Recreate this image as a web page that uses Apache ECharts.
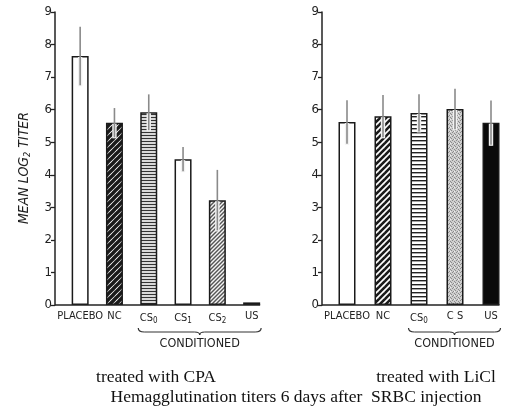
<!DOCTYPE html>
<html><head><meta charset="utf-8">
<script src="https://cdn.jsdelivr.net/npm/echarts@6/dist/echarts.min.js"></script>
<style>html,body{margin:0;padding:0;background:#fff}#c{width:509px;height:415px}</style>
</head><body><div id="c"></div>
<script>
// ---- data ----
const labelsL = ['PLACEBO', 'NC', 'CS{s|0}', 'CS{s|1}', 'CS{s|2}', 'US'];
const valuesL = [7.65, 5.6, 5.92, 4.48, 3.22, 0.08];
const errorsL = [0.9, 0.45, 0.55, 0.37, 0.93, 0];
const labelsR = ['PLACEBO', 'NC', 'CS{s|0}', 'C S', 'US'];
const valuesR = [5.62, 5.8, 5.9, 6.02, 5.6];
const errorsR = [0.67, 0.65, 0.57, 0.62, 0.68];
const yTicks = [0, 1, 2, 3, 4, 5, 6, 7, 8, 9];

// ---- patterns ----
function mk(w, h, draw) { const c = document.createElement('canvas'); c.width = w; c.height = h; draw(c.getContext('2d'), w, h); return c; }
function hatch(s, lw, fg, bg) {
  return mk(s, s, (g) => { g.fillStyle = bg; g.fillRect(0, 0, s, s); g.strokeStyle = fg; g.lineWidth = lw;
    for (const k of [-s, 0, s]) { g.beginPath(); g.moveTo(k - 1, s + 1); g.lineTo(k + s + 1, -1); g.stroke(); } });
}
function stripes(h, lw, fg, bg) {
  return mk(4, h, (g) => { g.fillStyle = bg; g.fillRect(0, 0, 4, h); g.fillStyle = fg; g.fillRect(0, 0, 4, lw); });
}
function stipple() {
  return mk(4, 4, (g) => { g.fillStyle = '#cdcdcd'; g.fillRect(0, 0, 4, 4); g.fillStyle = '#8a8a8a';
    [[0,0],[2,1],[1,3],[3,2]].forEach(p => g.fillRect(p[0], p[1], 1, 1)); g.fillStyle = '#eee'; g.fillRect(2, 3, 1, 1); });
}
const P = (c) => ({ image: c, repeat: 'repeat' });
const fillsL = ['#fff', P(hatch(6, 3.4, '#1a1a1a', '#fff')), P(stripes(3, 1, '#333', '#d8d8d8')), '#fff', P(hatch(4, 1.4, '#555', '#f4f4f4')), '#333'];
const fillsR = ['#fff', P(hatch(6, 2.6, '#1a1a1a', '#fff')), P(stripes(4, 1.4, '#222', '#fff')), P(stipple()), '#0a0a0a'];

const FONT = "'Liberation Sans Narrow','DejaVu Sans Condensed','DejaVu Sans',sans-serif";
const chart = echarts.init(document.getElementById('c'), null, { renderer: 'canvas' });
const BW = 17;

function yAx(gi, off) {
  return { type: 'value', gridIndex: gi, min: 0, max: 9, interval: 1, offset: off,
    axisLine: { show: true, lineStyle: { color: '#222', width: 1.5 } },
    axisTick: { show: true, length: 4, lineStyle: { color: '#222', width: 1.3 } },
    axisLabel: { color: '#222', fontSize: 13, fontFamily: FONT, margin: 3, formatter: (v) => yTicks.includes(v) ? String(v) : '' },
    splitLine: { show: false } };
}
function xAx(gi, labels) {
  return { type: 'category', gridIndex: gi, data: labels,
    axisLine: { show: false }, axisTick: { show: false },
    axisLabel: { color: '#222', fontSize: 11, fontFamily: FONT, margin: 6, interval: 0,
      rich: { s: { fontSize: 8, fontFamily: FONT, color: '#222', verticalAlign: 'bottom', padding: [6, 0, 0, 0] } } } };
}
function bars(gi, vals, fills) {
  return { type: 'bar', xAxisIndex: gi, yAxisIndex: gi, barWidth: BW, silent: true,
    data: vals.map((v, i) => ({ value: v, itemStyle: { color: fills[i], borderColor: '#1a1a1a', borderWidth: 1.5 } })) };
}
function errs(gi, vals, es) {
  return { type: 'custom', xAxisIndex: gi, yAxisIndex: gi, silent: true, z: 5,
    data: vals.map((v, i) => [i, v, es[i]]),
    renderItem: (p, api) => {
      const i = api.value(0), v = api.value(1), e = api.value(2);
      if (!e) return null;
      const top = api.coord([i, v + e]), low = api.coord([i, v - e]), mid = api.coord([i, v]);
      return { type: 'group', children: [
        { type: 'rect', shape: { x: mid[0] - 2.2, y: mid[1] + 1, width: 4.4, height: low[1] - mid[1] }, style: { fill: '#f2f2f2' } },
        { type: 'line', shape: { x1: top[0], y1: top[1], x2: low[0], y2: low[1] }, style: { stroke: '#8a8a8a', lineWidth: 1.6 } }
      ] };
    } };
}

chart.setOption({
  animation: false,
  grid: [
    { left: 63, top: 12, width: 205.8, height: 293 },
    { left: 329, top: 12, width: 180, height: 293 }
  ],
  xAxis: [xAx(0, labelsL), xAx(1, labelsR)],
  yAxis: [yAx(0, 8), yAx(1, 7)],
  series: [bars(0, valuesL, fillsL), errs(0, valuesL, errorsL), bars(1, valuesR, fillsR), errs(1, valuesR, errorsR)]
});

function brace(x1, x2, y) {
  const xm = (x1 + x2) / 2, st = { stroke: '#333', lineWidth: 1.2, fill: null };
  const q = (a, b, c, d, e, f) => ({ type: 'bezierCurve', shape: { x1: a, y1: b, cpx1: c, cpy1: d, x2: e, y2: f }, style: st });
  const l = (a, b, c, d) => ({ type: 'line', shape: { x1: a, y1: b, x2: c, y2: d }, style: st });
  return { type: 'group', children: [
    q(x1, y - 4, x1, y, x1 + 6, y), l(x1 + 6, y, xm - 5, y), q(xm - 5, y, xm, y, xm, y + 3),
    q(xm, y + 3, xm, y, xm + 5, y), l(xm + 5, y, x2 - 6, y), q(x2 - 6, y, x2, y, x2, y - 4)
  ] };
}
function deco(gi, n, off, firstCond) {
  const g = chart.getModel().getComponent('grid', gi).coordinateSystem.getRect();
  const base = chart.convertToPixel({ gridIndex: gi }, [0, 0])[1];
  const last = chart.convertToPixel({ gridIndex: gi }, [n - 1, 0])[0];
  const c0 = chart.convertToPixel({ gridIndex: gi }, [firstCond, 0])[0];
  const x1 = c0 - BW / 2 - 2, x2 = last + BW / 2 + 1;
  return [
    { type: 'line', shape: { x1: g.x - off, y1: base, x2: last + BW / 2, y2: base }, style: { stroke: '#222', lineWidth: 1.5 }, z: 10 },
    brace(x1, x2, base + 27),
    { type: 'text', x: (x1 + x2) / 2, y: base + 39, style: { text: 'CONDITIONED', font: "12.5px " + FONT, fill: '#222', align: 'center', verticalAlign: 'middle' } }
  ];
}
const SERIF = "17.5px 'Liberation Serif','Times New Roman',serif";
chart.setOption({ graphic: [
  ...deco(0, valuesL.length, 8, 2),
  ...deco(1, valuesR.length, 7, 2),
  { type: 'text', x: 24, y: 168, rotation: Math.PI / 2, style: { text: 'MEAN LOG{s|2} TITER', font: "italic 14px " + FONT, fill: '#222', align: 'center', verticalAlign: 'middle',
      rich: { s: { font: "italic 9px " + FONT, fill: '#222', verticalAlign: 'bottom', padding: [7, 0, 0, 0] } } } },
  { type: 'text', x: 156, y: 377, style: { text: 'treated with CPA', font: SERIF, fill: '#111', align: 'center', verticalAlign: 'middle' } },
  { type: 'text', x: 436, y: 377, style: { text: 'treated with LiCl', font: SERIF, fill: '#111', align: 'center', verticalAlign: 'middle' } },
  { type: 'text', x: 296, y: 397, style: { text: 'Hemagglutination titers 6 days after  SRBC injection', font: SERIF, fill: '#111', align: 'center', verticalAlign: 'middle' } }
] });
</script></body></html>
